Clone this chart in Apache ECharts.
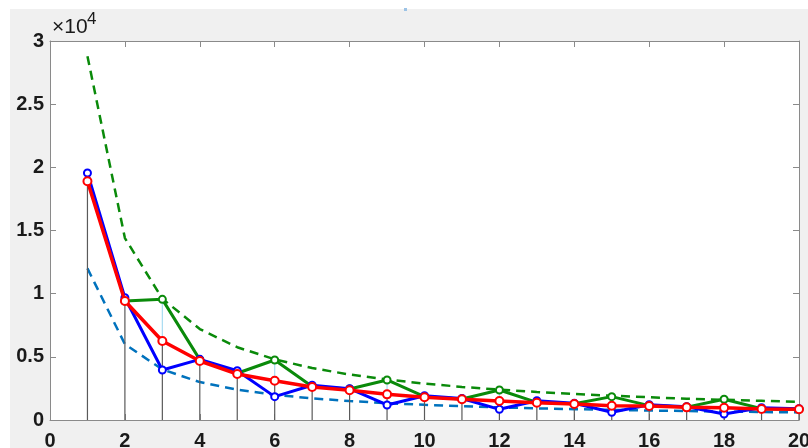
<!DOCTYPE html>
<html>
<head>
<meta charset="utf-8">
<script src="https://cdn.jsdelivr.net/npm/echarts@6/dist/echarts.min.js"></script>
<style>
  html, body { margin: 0; padding: 0; background: #ffffff; }
  #wrap { position: relative; width: 808px; height: 448px; overflow: hidden; }
  #figbg { position: absolute; left: 10px; top: 9px; right: 0; bottom: 0; background: #f0f0f0; }
  #chart { position: absolute; left: 0; top: 0; width: 808px; height: 448px; }
</style>
</head>
<body>
<div id="wrap">
  <div id="figbg"></div>
  <div id="chart"></div>
</div>
<script>
// Sample index
const xs = [1, 2, 3, 4, 5, 6, 7, 8, 9, 10, 11, 12, 13, 14, 15, 16, 17, 18, 19, 20];

// Measured series (red: average, blue: lower run, green: upper run from x = 2)
const redVals   = [18900, 9420, 6250, 4670, 3640, 3110, 2610, 2360, 2030, 1800, 1640, 1500, 1370, 1270, 1130, 1110, 1000, 975, 870, 845];
const blueVals  = [19550, 9680, 3960, 4800, 3900, 1850, 2750, 2480, 1190, 1925, 1700, 845, 1530, 1320, 610, 1210, 1050, 475, 975, 895];
const greenXs   = [2, 3, 4, 5, 6, 7, 8, 9, 10, 11, 12, 13, 14, 15, 16, 17, 18, 19, 20];
const greenVals = [9420, 9550, 4780, 3700, 4750, 2650, 2450, 3170, 1850, 1660, 2375, 1400, 1280, 1850, 1140, 1020, 1640, 900, 850];

// Reference bounds (dashed)
const upperBound = [28800, 14400, 9600, 7200, 5760, 4800, 4110, 3600, 3200, 2880, 2620, 2400, 2220, 2060, 1920, 1800, 1690, 1600, 1520, 1440];
const lowerBound = [12000, 6000, 4000, 3000, 2400, 2000, 1710, 1500, 1330, 1200, 1090, 1000, 920, 860, 800, 750, 710, 670, 630, 600];

// Axis ticks
const xTicks = [0, 2, 4, 6, 8, 10, 12, 14, 16, 18, 20];
const yTickLabels = ['0', '0.5', '1', '1.5', '2', '2.5', '3'];
const yStep = 5000;

const pairs = (a, b) => a.map((x, i) => [x, b[i]]);

const axisGray = '#8a8a8a';
const labelFont = { fontFamily: 'Liberation Sans, Arial, sans-serif', fontWeight: 'bold', fontSize: 20, color: '#1a1a1a' };

const chart = echarts.init(document.getElementById('chart'), null, { renderer: 'canvas' });

const xBase = {
  type: 'value', min: xTicks[0], max: xTicks[xTicks.length - 1], interval: 2,
  splitLine: { show: false },
  axisLine: { show: true, onZero: false, lineStyle: { color: axisGray, width: 1 } },
  axisTick: { show: true, inside: true, length: 6, lineStyle: { color: axisGray } }
};
const yBase = {
  type: 'value', min: 0, max: yStep * (yTickLabels.length - 1), interval: yStep,
  splitLine: { show: false },
  axisLine: { show: true, onZero: false, lineStyle: { color: axisGray, width: 1 } },
  axisTick: { show: true, inside: true, length: 6, lineStyle: { color: axisGray } }
};

const option = {
  animation: false,
  backgroundColor: 'transparent',
  grid: {
    left: 50, top: 41, right: 9, bottom: 28,
    containLabel: false, outerBoundsMode: 'none',
    show: true, backgroundColor: '#ffffff', borderWidth: 0
  },
  xAxis: [
    Object.assign({}, xBase, { position: 'bottom', axisLabel: Object.assign({ margin: 11, showMinLabel: true, showMaxLabel: true }, labelFont) }),
    Object.assign({}, xBase, { position: 'top', axisLabel: { show: false } })
  ],
  yAxis: [
    Object.assign({}, yBase, { position: 'left', axisLabel: Object.assign({ margin: 6, formatter: v => yTickLabels[Math.round(v / yStep)] }, labelFont) }),
    Object.assign({}, yBase, { position: 'right', axisLabel: { show: false } })
  ],
  graphic: [
    { type: 'text', left: 52, top: 17, style: { text: '×10', font: '21px "Liberation Sans", Arial, sans-serif', fill: '#1a1a1a' } },
    { type: 'text', left: 87, top: 11, style: { text: '4', font: '17px "Liberation Sans", Arial, sans-serif', fill: '#1a1a1a' } },
    { type: 'rect', left: 404, top: 8, shape: { width: 3, height: 3 }, style: { fill: '#9cc3e6' } }
  ],
  series: [
    {
      name: 'upper', type: 'line', data: pairs(xs, upperBound), showSymbol: false, symbol: 'none',
      lineStyle: { color: '#0a8a0a', width: 2.5, type: [9, 6] }, z: 2
    },
    {
      name: 'lower', type: 'line', data: pairs(xs, lowerBound), showSymbol: false, symbol: 'none',
      lineStyle: { color: '#0072BD', width: 2.5, type: [9, 6] }, z: 2
    },
    {
      // stems from zero up to the average value
      name: 'stems', type: 'custom', data: pairs(xs, redVals), z: 3,
      encode: { x: 0, y: 1 },
      renderItem: function (params, api) {
        const p0 = api.coord([api.value(0), 0]);
        const p1 = api.coord([api.value(0), api.value(1)]);
        return { type: 'line', shape: { x1: p0[0], y1: p0[1], x2: p1[0], y2: p1[1] }, style: { stroke: '#5a5a5a', lineWidth: 1.2 } };
      }
    },
    {
      // light connectors between the average and the upper run
      name: 'spread', type: 'custom', z: 3,
      data: greenXs.map((x, i) => [x, redVals[xs.indexOf(x)], greenVals[i]]),
      encode: { x: 0, y: [1, 2] },
      renderItem: function (params, api) {
        const p0 = api.coord([api.value(0), api.value(1)]);
        const p1 = api.coord([api.value(0), api.value(2)]);
        return { type: 'line', shape: { x1: p0[0], y1: p0[1], x2: p1[0], y2: p1[1] }, style: { stroke: '#a8dcf2', lineWidth: 1.2 } };
      }
    },
    {
      name: 'green', type: 'line', data: pairs(greenXs, greenVals), z: 4,
      symbol: 'emptyCircle', symbolSize: 7,
      lineStyle: { color: '#0a8a0a', width: 3 },
      itemStyle: { color: '#0a8a0a', borderColor: '#0a8a0a', borderWidth: 2.5 }
    },
    {
      name: 'blue', type: 'line', data: pairs(xs, blueVals), z: 5,
      symbol: 'emptyCircle', symbolSize: 7,
      lineStyle: { color: '#0000ff', width: 3 },
      itemStyle: { color: '#0000ff', borderColor: '#0000ff', borderWidth: 2.5 }
    },
    {
      name: 'red', type: 'line', data: pairs(xs, redVals), z: 6,
      symbol: 'emptyCircle', symbolSize: 8,
      lineStyle: { color: '#ff0000', width: 3.5 },
      itemStyle: { color: '#ff0000', borderColor: '#ff0000', borderWidth: 3.5 }
    }
  ]
};

chart.setOption(option);
</script>
</body>
</html>
